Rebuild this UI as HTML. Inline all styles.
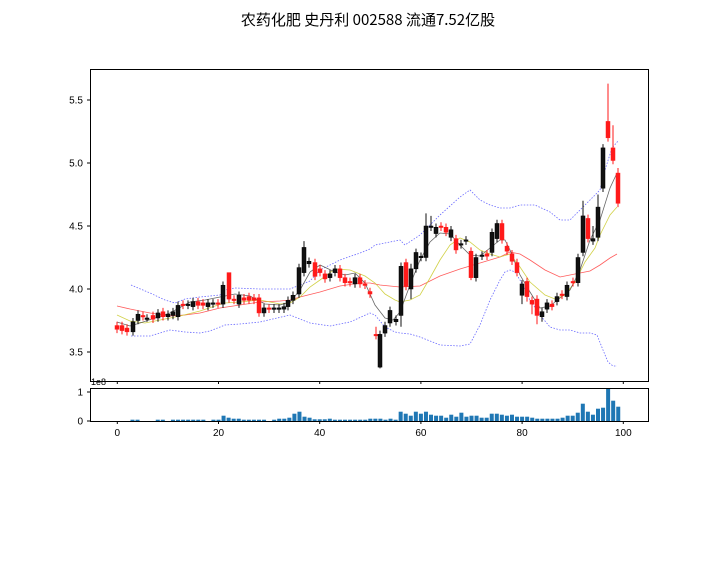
<!DOCTYPE html>
<html><head><meta charset="utf-8"><style>
html,body{margin:0;padding:0;background:#fff;}
svg{display:block;font-family:"Liberation Sans","DejaVu Sans","Noto Sans CJK SC",sans-serif;}
</style></head><body>
<svg id="s" width="720" height="576" xmlns="http://www.w3.org/2000/svg">
<rect width="720" height="576" fill="#fff"/>
<text x="368" y="25" font-size="15" text-anchor="middle" font-family="WenQuanYi Zen Hei, Noto Sans CJK SC, sans-serif">农药化肥 史丹利 002588 流通7.52亿股</text>
<g id="main"></g>
<rect x="90.5" y="69.5" width="558" height="312" fill="none" stroke="#000" stroke-width="1"/>
<rect x="90.5" y="388.5" width="558" height="33" fill="none" stroke="#000" stroke-width="1"/>
<g font-size="10" fill="#000" id="ticks"></g>
</svg>
<script>
const s=document.getElementById('main'),tk=document.getElementById('ticks');
const NS='http://www.w3.org/2000/svg';
function el(p,t,a,txt){const e=document.createElementNS(NS,t);for(const k in a)e.setAttribute(k,a[k]);if(txt!==undefined)e.textContent=txt;p.appendChild(e);return e;}
const Y=p=>289-(p-4)*126;
[[5.5,'5.5'],[5.0,'5.0'],[4.5,'4.5'],[4.0,'4.0'],[3.5,'3.5']].forEach(([v,t])=>{const y=Y(v);el(tk,'line',{x1:87,x2:90,y1:y,y2:y,stroke:'#000'});el(tk,'text',{x:83,y:y+3.5,'text-anchor':'end'},t);});
[0,20,40,60,80,100].forEach(v=>{const x=117.3+v*5.06;el(tk,'line',{x1:x,x2:x,y1:381,y2:384,stroke:'#000'});el(tk,'line',{x1:x,x2:x,y1:421,y2:424,stroke:'#000'});el(tk,'text',{x:x,y:436,'text-anchor':'middle'},String(v));});
el(tk,'line',{x1:87,x2:90,y1:392,y2:392,stroke:'#000'});el(tk,'text',{x:83,y:395.5,'text-anchor':'end'},'1');
el(tk,'line',{x1:87,x2:90,y1:421,y2:421,stroke:'#000'});el(tk,'text',{x:83,y:424.5,'text-anchor':'end'},'0');
el(tk,'text',{x:91,y:385,'font-size':'9'},'1e8');
function line(pts,col,w,dash,op){el(s,'polyline',{points:pts.map(p=>p.join(',')).join(' '),fill:'none',stroke:col,'stroke-width':w,'stroke-dasharray':dash||'none',opacity:op||1});}
line([[131,285],[150,293],[165,300],[175,303],[185,299],[200,297],[220,295],[225,290],[235,288],[260,289],[290,289],[300,285],[310,281],[320,270],[340,260],[360,253],[370,249],[375,245],[400,240],[405,245],[420,235],[440,215],[460,197],[470,190],[480,200],[490,205],[500,208],[510,208],[520,205],[535,205],[550,212],[560,220],[570,220],[580,210],[590,200],[600,190],[605,170],[612,148],[618,141]],'#4444ff',0.8,'1.5,1.5',0.8);
line([[131,336],[150,336],[160,333],[170,330],[185,332],[200,333],[210,331],[225,325],[240,324],[260,322],[290,315],[300,319],[310,323],[330,326],[350,322],[370,313],[375,315],[385,327],[395,332],[400,333],[410,334],[420,337],[440,345],[460,346],[470,344],[480,325],[490,300],[500,280],[505,272],[510,270],[515,272],[520,280],[530,300],[540,315],[550,327],[560,330],[570,330],[580,333],[590,333],[597,335],[603,350],[608,362],[613,366],[617,366]],'#4444ff',0.8,'1.5,1.5',0.8);
line([[117,306],[130,309],[150,313],[170,316],[185,315],[200,313],[220,308],[240,305],[260,302],[280,301],[290,300],[300,297],[320,292],[340,286],[360,283],[370,283],[380,285],[400,287],[420,286],[440,276],[460,269],[480,263],[500,257],[510,252],[520,254],[530,260],[545,270],[560,277],[575,274],[590,271],[600,265],[610,258],[617,254]],'#ff3333',0.8,null,0.8);
line([[117,315],[130,321],[145,323],[160,320],[180,316],[200,311],[215,306],[225,303],[240,302],[260,300],[280,304],[290,303],[300,297],[310,287],[320,280],[335,269],[350,270],[365,276],[375,283],[385,294],[395,300],[400,302],[410,300],[420,295],[430,278],[440,260],[450,245],[460,238],[470,242],[480,250],[490,254],[500,257],[510,254],[520,267],[530,282],[545,295],[555,299],[565,295],[575,282],[585,262],[595,248],[600,235],[610,215],[617,207]],'#cccc33',0.8,null,0.9);
line([[117,322],[130,326],[140,323],[155,318],[170,313],[190,302],[205,300],[220,297],[235,294],[250,296],[265,304],[280,305],[290,302],[300,290],[310,272],[320,265],[335,272],[345,275],[355,273],[365,283],[375,305],[385,318],[393,320],[400,312],[410,285],[420,260],[430,242],[440,233],[450,234],[460,245],[470,255],[480,256],[490,248],[500,240],[505,240],[510,250],[520,275],[530,292],[540,308],[550,306],[560,298],[570,290],[580,270],[590,240],[600,220],[610,188],[617,173]],'#555',0.8,null,0.9);
const d=[[117,3.71,3.68],[122,3.71,3.67],[127,3.69,3.66],[133,3.66,3.74],[138,3.75,3.80],[143,3.79,3.78],[147,3.77,3.77],[153,3.79,3.76],[158,3.77,3.81],[163,3.82,3.78],[168,3.78,3.80],[173,3.79,3.82],[178,3.78,3.87],[183,3.88,3.87],[188,3.87,3.88],[193,3.86,3.90],[198,3.90,3.87],[203,3.89,3.87],[208,3.86,3.89],[213,3.88,3.89],[218,3.89,3.88],[223,3.88,4.03],[229,4.13,3.92],[234,3.92,3.91],[239,3.88,3.95],[244,3.93,3.91],[249,3.94,3.91],[254,3.93,3.91],[259,3.93,3.81],[264,3.81,3.85],[269,3.85,3.84],[274,3.84,3.85],[279,3.84,3.85],[284,3.84,3.86],[288,3.86,3.91],[293,3.91,3.95],[299,3.96,4.17],[304,4.13,4.33],[309,4.20,4.22],[315,4.21,4.10],[320,4.16,4.13],[325,4.12,4.08],[330,4.09,4.12],[335,4.13,4.16],[340,4.16,4.09],[345,4.09,4.05],[350,4.06,4.05],[355,4.04,4.09],[360,4.09,4.04],[365,4.04,4.03],[370,3.98,3.96],[376,3.64,3.63],[380,3.38,3.64],[385,3.65,3.71],[390,3.73,3.83],[396,3.74,3.76],[401,3.79,4.18],[406,4.21,4.02],[411,4.00,4.16],[416,4.16,4.29],[421,4.25,4.26],[426,4.25,4.50],[431,4.49,4.50],[436,4.44,4.49],[441,4.50,4.49],[446,4.49,4.45],[451,4.41,4.47],[456,4.40,4.31],[461,4.35,4.36],[466,4.38,4.39],[471,4.30,4.09],[476,4.09,4.25],[482,4.26,4.27],[487,4.28,4.26],[492,4.29,4.45],[497,4.40,4.52],[502,4.52,4.39],[507,4.34,4.30],[512,4.28,4.22],[517,4.21,4.13],[522,3.95,4.04],[527,4.06,3.94],[532,3.91,3.88],[537,3.92,3.79],[542,3.78,3.82],[547,3.84,3.89],[552,3.88,3.86],[557,3.90,3.94],[562,3.96,3.95],[567,3.94,4.03],[573,4.06,4.05],[578,4.05,4.25],[583,4.29,4.58],[588,4.56,4.40],[593,4.38,4.40],[598,4.41,4.65],[603,4.80,5.12],[608,5.33,5.20],[613,5.12,5.02],[618,4.92,4.68]];
const hi={608:5.63,613:5.30,618:4.96,583:4.70,598:4.75,411:4.20,426:4.60,431:4.58,441:4.53,299:4.20,304:4.38,380:3.67,376:3.70,223:4.06,229:4.13,593:4.50};
const lo={380:3.37,537:3.72,532:3.80,527:3.90,471:4.07,411:3.92,401:3.70,522:3.88,542:3.74};
d.forEach(([x,o,c])=>{const h=hi[x]||Math.max(o,c)+0.03,l=lo[x]||Math.min(o,c)-0.03;const up=c>=o;const col=up?'#111':'#ff1a1a';
el(s,'line',{x1:x,x2:x,y1:Y(h),y2:Y(l),stroke:col,'stroke-width':1});
const t=Y(Math.max(o,c)),b=Y(Math.min(o,c));el(s,'rect',{x:x-2,y:t,width:4,height:Math.max(b-t,1.5),fill:col,stroke:up?'#000':'#ff1a1a','stroke-width':0.5});});
const v={3:1.3,4:1.3,8:1.3,9:1.3,11:1.3,12:1.3,13:1.3,14:1.3,15:1.3,16:1.3,17:1.3,19:1.3,20:1.3,21:5.3,22:3.3,23:2.3,24:2.3,25:1.3,26:1.3,27:1.3,28:1.3,29:1.3,31:1.3,32:2.3,33:2.3,34:3.3,35:7.3,36:9.3,37:4.3,38:3.3,39:1.7,40:1.7,41:1.7,42:2.3,43:1.3,44:1.3,45:1.3,46:1.3,47:1.3,48:1.3,49:1.3,50:2.3,51:2.3,52:2.3,53:1.3,54:2.3,55:1.3,56:9.3,57:7.3,58:5.3,59:9.3,60:7.3,61:9.3,62:6.3,63:5.3,64:5.3,65:3.3,66:6.3,67:4.3,68:8.3,69:4.3,70:5.3,71:5.3,72:3.3,73:3.3,74:7.3,75:7.3,76:6.3,77:5.3,78:6.3,79:4.3,80:4.3,81:4.3,82:3.3,83:2.3,84:2.3,85:2.3,86:2.3,87:2.3,88:3.3,89:5.3,90:5.3,91:8.3,92:17.3,93:9.3,94:6.3,95:12.3,96:13.3,97:33,98:20.3,99:14.3};
for(const i in v){const x=117.3+i*5.06;el(s,'rect',{x:x-2,y:421-v[i],width:4,height:v[i],fill:'#1f77b4'});}
</script>
</body></html>
